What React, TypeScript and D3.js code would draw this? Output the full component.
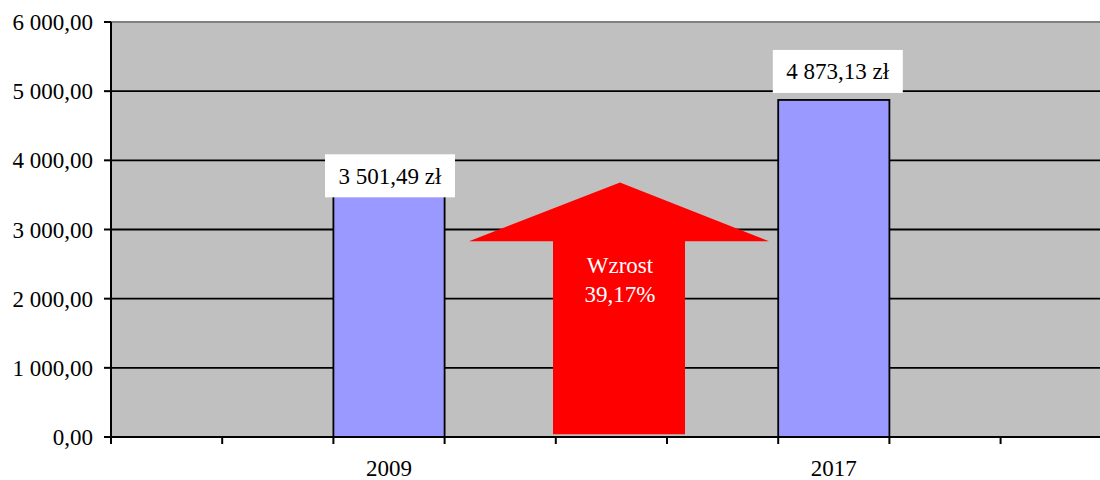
import React from "react";
import * as d3 from "d3";

const slots = ["s0", "s1", "2009", "s3", "s4", "s5", "2017", "s7", "s8"];
const years = ["2009", "2017"];
const values = [3501.49, 4873.13];
const valueLabels = ["3 501,49 zł", "4 873,13 zł"];
const yTicks = [0, 1000, 2000, 3000, 4000, 5000, 6000];
const arrowText = ["Wzrost", "39,17%"];

const W = 1100;
const H = 480;
const FONT = "Liberation Serif, Times New Roman, DejaVu Serif, serif";

export default function App() {
  const left = 111;
  const top = 22;
  const bottom = 437;
  const slotW = 111.2;
  const x = d3.scaleBand<string>().domain(slots).range([left, left + slotW * slots.length]).padding(0);
  const y = d3.scaleLinear().domain([0, 6000]).range([bottom, top]);
  const fmt = (v: number) => {
    const s = d3.format(",.2f")(v);
    return s.replace(/,/g, " ").replace(".", ",");
  };
  const boundaries = d3.range(slots.length + 1).map((i) => left + i * slotW);
  const labelCfg = [
    { dx: 1, cy: y(values[0]) - 19 },
    { dx: 4, cy: y(values[1]) - 28.5 },
  ];
  const ac = 620;
  const aBottom = y(40);
  const aShoulder = y(2830);
  const aTip = y(3680);
  const arrowPath = [
    [ac - 67, aBottom],
    [ac - 67, aShoulder],
    [ac - 151, aShoulder],
    [ac, aTip],
    [ac + 149, aShoulder],
    [ac + 65, aShoulder],
    [ac + 65, aBottom],
  ];
  const ts = { fontFamily: FONT, fontSize: 23 };
  return (
    <svg width={W} height={H} style={{ position: "absolute", left: 0, top: 0 }}>
      <rect x={0} y={0} width={W} height={H} fill="#fff" />
      <rect x={left} y={top} width={W - left} height={bottom - top} fill="#C0C0C0" />
      {yTicks.filter((t) => t > 0 && t < 6000).map((t) => (
        <line key={t} x1={left} x2={W} y1={y(t)} y2={y(t)} stroke="#000" strokeWidth={1.8} />
      ))}
      <line x1={left} x2={W} y1={y(6000)} y2={y(6000)} stroke="#808080" strokeWidth={2} />
      {years.map((yr, i) => (
        <rect key={yr} x={x(yr)!} y={y(values[i])} width={x.bandwidth()} height={bottom - y(values[i])}
          fill="#9999FF" stroke="#000" strokeWidth={1.8} />
      ))}
      <path d={d3.line()(arrowPath as [number, number][])! + "Z"} fill="#FF0000" />
      {arrowText.map((t, i) => (
        <text key={t} x={ac} y={273 + i * 29} textAnchor="middle" fill="#fff" style={ts}>{t}</text>
      ))}
      {years.map((yr, i) => {
        const cx = x(yr)! + x.bandwidth() / 2 + labelCfg[i].dx;
        const cy = labelCfg[i].cy;
        return (
          <g key={"lbl" + yr}>
            <rect x={cx - 65} y={cy - 21.5} width={130} height={43} fill="#fff" />
            <text x={cx} y={cy + 8} textAnchor="middle" fill="#000" style={ts}>{valueLabels[i]}</text>
          </g>
        );
      })}
      <line x1={left} x2={left} y1={top} y2={bottom + 1} stroke="#000" strokeWidth={2} />
      <line x1={left - 1} x2={W} y1={bottom} y2={bottom} stroke="#000" strokeWidth={2} />
      {yTicks.map((t) => (
        <g key={"yt" + t}>
          <line x1={left - 7} x2={left} y1={y(t)} y2={y(t)} stroke="#000" strokeWidth={2} />
          <text x={93} y={y(t) + 8} textAnchor="end" fill="#000" style={ts}>{fmt(t)}</text>
        </g>
      ))}
      {boundaries.map((b, i) => (
        <line key={"xt" + i} x1={b} x2={b} y1={bottom} y2={bottom + 7} stroke="#000" strokeWidth={2} />
      ))}
      {years.map((yr) => (
        <text key={"xl" + yr} x={x(yr)! + x.bandwidth() / 2} y={476} textAnchor="middle" fill="#000" style={ts}>{yr}</text>
      ))}
    </svg>
  );
}
